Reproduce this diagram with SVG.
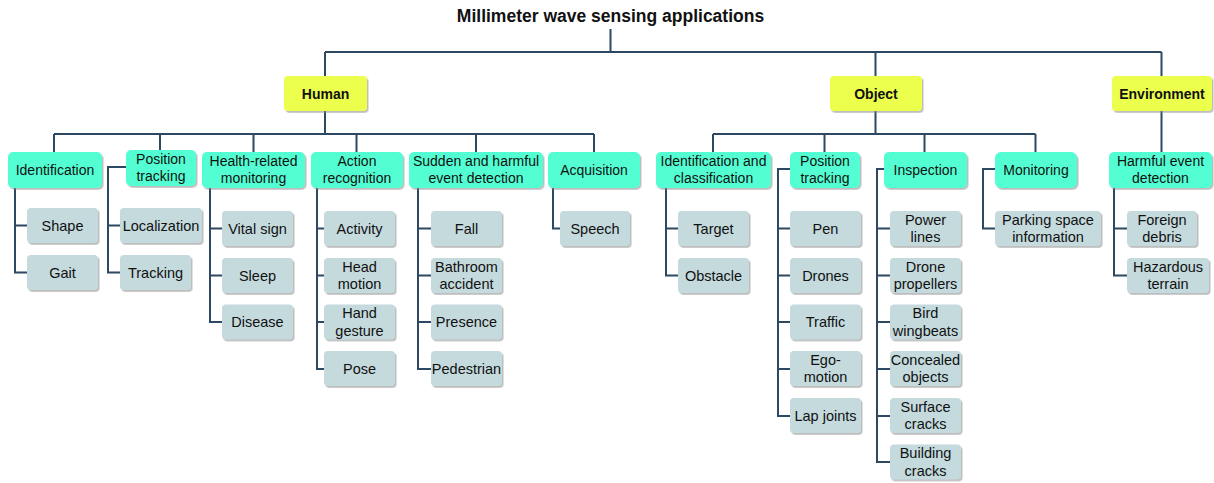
<svg xmlns="http://www.w3.org/2000/svg" width="1214" height="483" viewBox="0 0 1214 483">
<style>
text{font-family:"Liberation Sans",Arial,sans-serif;fill:#111;text-anchor:middle}
.t{font-size:17.5px;font-weight:bold}
.l1 rect{fill:#ecff4e;filter:url(#sh)}
.l1 text{font-size:14px;font-weight:bold}
.l2 rect{fill:#52ffd2;filter:url(#sh)}
.l2 text{font-size:14px}
.lf rect{fill:#c4dadd;filter:url(#sh)}
.lf text{font-size:14.5px}
#connectors path{fill:none;stroke:#2c4862;stroke-width:2}
</style>
<defs>
<filter id="sh" x="-10%" y="-10%" width="130%" height="140%">
<feDropShadow dx="1.5" dy="1.8" stdDeviation="0.6" flood-color="#888" flood-opacity="0.55"/>
</filter>
</defs>
<rect width="1214" height="483" fill="#fff"/>
<text class="t" x="610.5" y="22">Millimeter wave sensing applications</text>
<g id="connectors">
<path d="M610.5 29V52M325 52H1161.5M325 52V76M875.5 52V76M1161.5 52V76"/>
<path d="M325 111V134M54 134H594M54 134V152M160 134V150M253.5 134V152M356.5 134V152M476 134V152M594 134V152"/>
<path d="M875.5 111V134M713 134H1035.5M713 134V152M824.5 134V152M924.5 134V152M1035.5 134V152"/>
<path d="M1161.5 111V152"/>
<path d="M15 188V272.5H27M15 225.5H27"/>
<path d="M126 167H108V272.5H120M108 225.5H120"/>
<path d="M210 188V322H222M210 228.5H222M210 275.5H222"/>
<path d="M317 188V369H324M317 228.5H324M317 275.5H324M317 322H324"/>
<path d="M418 188V369H431M418 228.5H431M418 275.5H431M418 322H431"/>
<path d="M553 188V228.5H560"/>
<path d="M666 188V275.5H678M666 228.5H678"/>
<path d="M790 169H778V416H790M778 228.5H790M778 275.5H790M778 322H790M778 369H790"/>
<path d="M884 169H877V462H890M877 228.5H890M877 275.5H890M877 322H890M877 369H890M877 416H890"/>
<path d="M995 169H983V228.5H995"/>
<path d="M1114 188V275.5H1127M1114 228.5H1127"/>
</g>
<g id="human" class="l1"><rect x="284" y="76" width="83" height="35" rx="4"/><text x="325.5" y="98.5">Human</text></g>
<g id="object" class="l1"><rect x="830" y="76" width="92" height="35" rx="4"/><text x="876" y="98.5">Object</text></g>
<g id="environment" class="l1"><rect x="1112" y="76" width="100" height="35" rx="4"/><text x="1162" y="98.5">Environment</text></g>

<g id="h-identification" class="l2"><rect x="8" y="152" width="94" height="36" rx="5"/><text x="55" y="175">Identification</text></g>
<g id="h-position" class="l2"><rect x="126" y="150" width="70" height="36" rx="5"/><text x="161" y="164">Position</text><text x="161" y="181">tracking</text></g>
<g id="h-health" class="l2"><rect x="202" y="152" width="103" height="36" rx="5"/><text x="253.5" y="166">Health-related</text><text x="253.5" y="183">monitoring</text></g>
<g id="h-action" class="l2"><rect x="311" y="152" width="92" height="36" rx="5"/><text x="357" y="166">Action</text><text x="357" y="183">recognition</text></g>
<g id="h-sudden" class="l2"><rect x="409" y="152" width="134" height="36" rx="5"/><text x="476" y="166">Sudden and harmful</text><text x="476" y="183">event detection</text></g>
<g id="h-acquisition" class="l2"><rect x="548" y="152" width="92" height="36" rx="5"/><text x="594" y="175">Acquisition</text></g>
<g id="o-idclass" class="l2"><rect x="656" y="152" width="115" height="36" rx="5"/><text x="713.5" y="166">Identification and</text><text x="713.5" y="183">classification</text></g>
<g id="o-position" class="l2"><rect x="790" y="152" width="70" height="36" rx="5"/><text x="825" y="166">Position</text><text x="825" y="183">tracking</text></g>
<g id="o-inspection" class="l2"><rect x="884" y="152" width="83" height="36" rx="5"/><text x="925.5" y="175">Inspection</text></g>
<g id="o-monitoring" class="l2"><rect x="995" y="152" width="82" height="36" rx="6"/><text x="1036" y="175">Monitoring</text></g>
<g id="e-harmful" class="l2"><rect x="1109" y="152" width="103" height="36" rx="5"/><text x="1160.5" y="166">Harmful event</text><text x="1160.5" y="183">detection</text></g>

<g id="shape" class="lf"><rect x="27" y="208" width="71" height="35" rx="4"/><text x="62.5" y="230.5">Shape</text></g>
<g id="gait" class="lf"><rect x="27" y="255" width="71" height="35" rx="4"/><text x="62.5" y="277.5">Gait</text></g>
<g id="localization" class="lf"><rect x="120" y="208" width="82" height="35" rx="4"/><text x="161" y="230.5">Localization</text></g>
<g id="tracking" class="lf"><rect x="120" y="255" width="71" height="35" rx="4"/><text x="155.5" y="277.5">Tracking</text></g>

<g id="vital" class="lf"><rect x="222" y="211" width="71" height="35" rx="4"/><text x="257.5" y="233.5">Vital sign</text></g>
<g id="sleep" class="lf"><rect x="222" y="258" width="71" height="35" rx="4"/><text x="257.5" y="280.5">Sleep</text></g>
<g id="disease" class="lf"><rect x="222" y="304.5" width="71" height="35" rx="4"/><text x="257.5" y="327">Disease</text></g>

<g id="activity" class="lf"><rect x="324" y="211" width="71" height="35" rx="4"/><text x="359.5" y="233.5">Activity</text></g>
<g id="head" class="lf"><rect x="324" y="258" width="71" height="35" rx="4"/><text x="359.5" y="271.5">Head</text><text x="359.5" y="289">motion</text></g>
<g id="hand" class="lf"><rect x="324" y="304.5" width="71" height="35" rx="4"/><text x="359.5" y="318">Hand</text><text x="359.5" y="335.5">gesture</text></g>
<g id="pose" class="lf"><rect x="324" y="351" width="71" height="35" rx="4"/><text x="359.5" y="373.5">Pose</text></g>

<g id="fall" class="lf"><rect x="431" y="211" width="71" height="35" rx="4"/><text x="466.5" y="233.5">Fall</text></g>
<g id="bathroom" class="lf"><rect x="431" y="258" width="71" height="35" rx="4"/><text x="466.5" y="271.5">Bathroom</text><text x="466.5" y="289">accident</text></g>
<g id="presence" class="lf"><rect x="431" y="304.5" width="71" height="35" rx="4"/><text x="466.5" y="327">Presence</text></g>
<g id="pedestrian" class="lf"><rect x="431" y="351" width="71" height="35" rx="4"/><text x="466.5" y="373.5">Pedestrian</text></g>

<g id="speech" class="lf"><rect x="560" y="211" width="70" height="35" rx="4"/><text x="595" y="233.5">Speech</text></g>

<g id="target" class="lf"><rect x="678" y="211" width="71" height="35" rx="4"/><text x="713.5" y="233.5">Target</text></g>
<g id="obstacle" class="lf"><rect x="678" y="258" width="71" height="35" rx="4"/><text x="713.5" y="280.5">Obstacle</text></g>

<g id="pen" class="lf"><rect x="790" y="211" width="71" height="35" rx="4"/><text x="825.5" y="233.5">Pen</text></g>
<g id="drones" class="lf"><rect x="790" y="258" width="71" height="35" rx="4"/><text x="825.5" y="280.5">Drones</text></g>
<g id="traffic" class="lf"><rect x="790" y="304.5" width="71" height="35" rx="4"/><text x="825.5" y="327">Traffic</text></g>
<g id="ego" class="lf"><rect x="790" y="351" width="71" height="35" rx="4"/><text x="825.5" y="364.5">Ego-</text><text x="825.5" y="382">motion</text></g>
<g id="lap" class="lf"><rect x="790" y="398" width="71" height="35" rx="4"/><text x="825.5" y="420.5">Lap joints</text></g>

<g id="power" class="lf"><rect x="890" y="211" width="71" height="35" rx="4"/><text x="925.5" y="224.5">Power</text><text x="925.5" y="242">lines</text></g>
<g id="propellers" class="lf"><rect x="890" y="258" width="71" height="35" rx="4"/><text x="925.5" y="271.5">Drone</text><text x="925.5" y="289">propellers</text></g>
<g id="bird" class="lf"><rect x="890" y="304.5" width="71" height="35" rx="4"/><text x="925.5" y="318">Bird</text><text x="925.5" y="335.5">wingbeats</text></g>
<g id="concealed" class="lf"><rect x="890" y="351" width="71" height="35" rx="4"/><text x="925.5" y="364.5">Concealed</text><text x="925.5" y="382">objects</text></g>
<g id="surface" class="lf"><rect x="890" y="398" width="71" height="35" rx="4"/><text x="925.5" y="411.5">Surface</text><text x="925.5" y="429">cracks</text></g>
<g id="building" class="lf"><rect x="890" y="444.5" width="71" height="35" rx="4"/><text x="925.5" y="458">Building</text><text x="925.5" y="475.5">cracks</text></g>

<g id="parking" class="lf"><rect x="995" y="211" width="106" height="35" rx="4"/><text x="1048" y="224.5">Parking space</text><text x="1048" y="242">information</text></g>

<g id="debris" class="lf"><rect x="1127" y="211" width="70" height="35" rx="4"/><text x="1162" y="224.5">Foreign</text><text x="1162" y="242">debris</text></g>
<g id="terrain" class="lf"><rect x="1127" y="258" width="82" height="35" rx="4"/><text x="1168" y="271.5">Hazardous</text><text x="1168" y="289">terrain</text></g>
</svg>
